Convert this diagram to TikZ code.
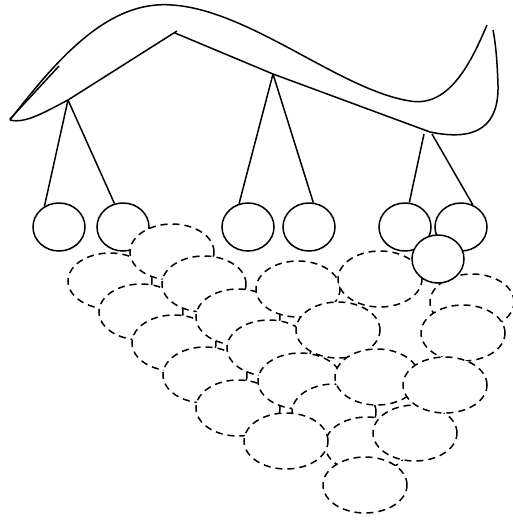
\documentclass[tikz,border=0pt]{standalone}
\usetikzlibrary{shapes.geometric}
\begin{document}
\begin{tikzpicture}[x=1pt,y=-1pt,line width=1.5pt,
  ball/.style={draw,ellipse,fill=white,inner sep=0pt,minimum width=52pt,minimum height=48pt},
  ghost/.style={draw,ellipse,fill=white,dash pattern=on 7pt off 5pt,inner sep=0pt,minimum width=84pt,minimum height=56pt}]
  \useasboundingbox (0,0) rectangle (513,520);
  % Top curve
  \draw (10,120) .. controls (60,55) and (110,0) .. (172,5)
        .. controls (250,10) and (340,90) .. (410,101)
        .. controls (450,108) and (472,60) .. (487,25);
  \draw (59,66) -- (10,119);
  % Hanging points
  \coordinate (a1) at (68,100);
  \coordinate (a2) at (273,74);
  \coordinate (a3l) at (424,134);
  \coordinate (a3r) at (432,134);
  \draw (10,120) .. controls (25,124) and (45,112) .. (a1) -- (177,31) -- (174,33);
  \draw (175,33) -- (a2) -- (430,132) .. controls (478,142) and (499,125) .. (498,85)
        .. controls (497,55) and (495,40) .. (493,30);
  % Solid balls
  \foreach \n/\x in {1/59, 2/123, 3/248, 4/309, 5/405, 6/461}
    \node[ball] (c\n) at (\x,227) {};
  \draw (a1) -- (c1.125);
  \draw (a1) -- (c2.110);
  \draw (a2) -- (c3.111);
  \draw (a2) -- (c4.80);
  \draw (a3l) -- (c5.80);
  \draw (a3r) -- (c6.62);
  % Dashed balls
  \foreach \n/\x/\y in {1/110/281, 2/141/312, 3/174/343, 4/205/375, 5/238/408,
      6/172/252, 7/204/284, 8/238/317, 9/269/348, 10/300/381, 11/334/412, 12/367/445,
      13/286/441, 14/298/289, 15/338/330, 16/377/377, 17/415/433,
      18/380/279, 19/472/302, 20/463/333, 21/445/385, 22/365/485}
    \node[ghost] (d\n) at (\x,\y) {};
  \node[ball] (c7) at (438,259) {};
\end{tikzpicture}
\end{document}
